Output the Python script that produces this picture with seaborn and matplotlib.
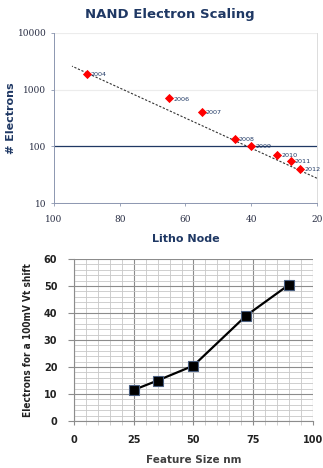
import numpy as np
import pandas as pd
import matplotlib
matplotlib.use("Agg")
import matplotlib.pyplot as plt
from matplotlib.ticker import MultipleLocator, FixedLocator, NullLocator
import seaborn as sns

# top chart: electrons per cell vs litho node
years = ["2004", "2006", "2007", "2008", "2009", "2010", "2011", "2012"]
litho_node = [90, 65, 55, 45, 40, 32, 28, 25]
electrons = [1900, 700, 400, 133, 100, 70, 55, 40]

# dotted exponential trendline, read at its two ends
trend_node = [94.5, 20]
trend_electrons = [2600, 27.5]

# bottom chart: electrons for a 100mV Vt shift
feature_size = [25, 35, 50, 72, 90]
electrons_vt = [11.5, 15, 20.5, 39, 50.5]

navy = "#1F3864"

sns.set_style("white")
plt.rcParams["font.family"] = ["DejaVu Sans"]

fig = plt.figure(figsize=(3.23, 4.68), dpi=100)
ax1 = fig.add_axes([0.167, 0.566, 0.814, 0.3635])
ax2 = fig.add_axes([0.229, 0.1004, 0.740, 0.3462])

# ---- top chart
df_top = pd.DataFrame({"year": years, "node": litho_node, "electrons": electrons})
df_trend = pd.DataFrame({"node": trend_node, "electrons": trend_electrons})

sns.lineplot(data=df_trend, x="node", y="electrons", ax=ax1, color="#333333",
             linestyle=(0, (2, 1.5)), linewidth=0.8, zorder=2)
ax1.axhline(100, color=navy, linewidth=0.9, zorder=1)
sns.scatterplot(data=df_top, x="node", y="electrons", ax=ax1, marker="D", s=22,
                color="red", edgecolor="red", linewidth=0, zorder=3)
for _, r in df_top.iterrows():
    ax1.annotate(r["year"], (r["node"], r["electrons"]), xytext=(3, -1.5),
                 textcoords="offset points", fontsize=4.6, color=navy)

ax1.set_yscale("log")
ax1.set_ylim(10, 10000)
ax1.set_xlim(100, 20)
ax1.xaxis.set_major_locator(FixedLocator([100, 80, 60, 40, 20]))
ax1.yaxis.set_major_locator(FixedLocator([10, 100, 1000, 10000]))
ax1.yaxis.set_minor_locator(NullLocator())
ax1.set_yticklabels(["10", "100", "1000", "10000"])
ax1.yaxis.grid(True, color="#ececec", linewidth=0.8)
ax1.set_axisbelow(True)
for lab in ax1.get_xticklabels() + ax1.get_yticklabels():
    lab.set_family("DejaVu Serif")
    lab.set_fontsize(6.5)
    lab.set_color("#2a2f45")
ax1.tick_params(axis="x", length=2.5, width=0.6, color="#8c96b0", pad=6, bottom=True)
ax1.tick_params(axis="y", length=2.5, width=0.6, color="#8c96b0", pad=3, left=True)
ax1.spines["top"].set_visible(False)
for s in ["left", "bottom"]:
    ax1.spines[s].set_color("#8c96b0")
    ax1.spines[s].set_linewidth(0.7)
ax1.spines["right"].set_color("#dcdcdc")
ax1.spines["right"].set_linewidth(0.7)
fig.text(0.526, 0.968, "NAND Electron Scaling", ha="center", va="center",
         fontsize=9.5, fontweight="bold", color=navy)
ax1.set_xlabel("Litho Node", fontsize=8, fontweight="bold", color=navy, labelpad=7)
ax1.set_ylabel("# Electrons", fontsize=8, fontweight="bold", color=navy, labelpad=1)

# ---- bottom chart
df_bot = pd.DataFrame({"size": feature_size, "electrons": electrons_vt})
sns.lineplot(data=df_bot, x="size", y="electrons", ax=ax2, color="black",
             linewidth=1.6, marker="s", markersize=7.5, markerfacecolor="black",
             markeredgecolor="#4a5f80", markeredgewidth=0.8, zorder=3)
ax2.set_xlim(0, 100)
ax2.set_ylim(0, 60)
ax2.xaxis.set_major_locator(MultipleLocator(25))
ax2.xaxis.set_minor_locator(MultipleLocator(5))
ax2.yaxis.set_major_locator(MultipleLocator(10))
ax2.yaxis.set_minor_locator(MultipleLocator(2))
ax2.grid(True, which="major", color="#8c8c8c", linewidth=0.8)
ax2.grid(True, which="minor", color="#c8c8c8", linewidth=0.6)
ax2.set_axisbelow(True)
ax2.tick_params(axis="y", which="major", labelsize=7, length=4, width=0.8,
                color="#8c8c8c", pad=8, left=True)
ax2.tick_params(axis="x", which="major", labelsize=7, length=3, width=0.8,
                color="#8c8c8c", pad=7, bottom=True)
ax2.tick_params(axis="x", which="minor", length=3, width=0.6, color="#c8c8c8", bottom=True)
ax2.tick_params(axis="y", which="minor", length=0)
for lab in ax2.get_xticklabels() + ax2.get_yticklabels():
    lab.set_fontweight("bold")
    lab.set_color("#222222")
for s in ["top", "right"]:
    ax2.spines[s].set_visible(False)
for s in ["left", "bottom"]:
    ax2.spines[s].set_color("#8c8c8c")
    ax2.spines[s].set_linewidth(0.8)
ax2.set_xlabel("Feature Size nm", fontsize=7.5, fontweight="bold", color="#404040", labelpad=7)
ax2.set_ylabel("Electrons for a 100mV Vt shift", fontsize=7.2, fontweight="bold",
               fontstretch="condensed", color="#222222", labelpad=8)

fig.savefig("out.png", dpi=100)
